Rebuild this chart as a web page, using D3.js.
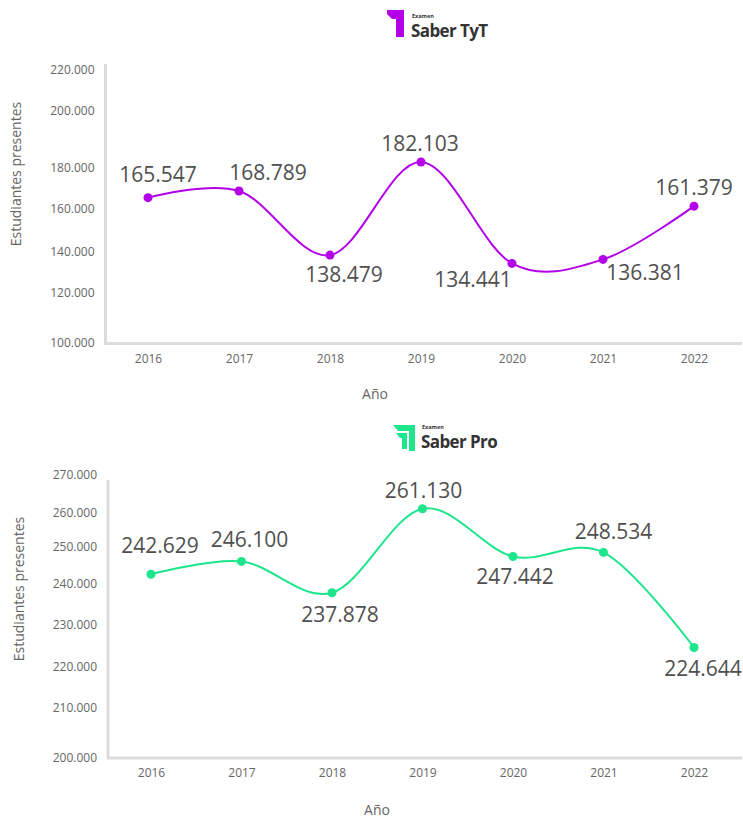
<!DOCTYPE html>
<html>
<head>
<meta charset="utf-8">
<script src="https://cdn.jsdelivr.net/npm/d3@7"></script>
<style>
  body { margin: 0; background: #fff; }
  svg text { font-family: 'Open Sans', sans-serif; }
</style>
</head>
<body>
<div id="chart"></div>
<script>
// data
const years = [2016, 2017, 2018, 2019, 2020, 2021, 2022];
const tytValues = [165547, 168789, 138479, 182103, 134441, 136381, 161379];
const proValues = [242629, 246100, 237878, 261130, 247442, 248534, 224644];
const tytTicks = [100000, 120000, 140000, 160000, 180000, 200000, 220000];
const proTicks = [200000, 210000, 220000, 230000, 240000, 250000, 260000, 270000];

// number format with dots as thousands separator
const es = d3.formatLocale({ decimal: ',', thousands: '.', grouping: [3], currency: ['$', ''] });
const fmt = es.format(',d');

class LineChart {
  constructor(_config) {
    this.config = {
      parent: _config.parent,
      values: _config.values,
      ticks: _config.ticks,
      tickPos: _config.tickPos,       // pixel positions of the (unevenly spaced) y labels
      xRange: _config.xRange,
      frame: _config.frame,
      colour: _config.colour,
      labelOffsets: _config.labelOffsets,
      yTitle: _config.yTitle,
      xTitle: _config.xTitle,
      xLabelY: _config.xLabelY,
    };
    this.render();
  }

  render() {
    const vis = this;
    const c = vis.config;

    vis.xScale = d3.scalePoint().domain(years).range(c.xRange);
    // piecewise linear scale so the axis labels sit where they are in the original
    vis.yScale = d3.scaleLinear().domain(c.ticks).range(c.tickPos);

    vis.g = c.parent.append('g');

    // grey L-shaped frame
    vis.g.append('path')
      .attr('d', `M${c.frame.left},${c.frame.top} V${c.frame.bottom} H${c.frame.right}`)
      .attr('fill', 'none')
      .attr('stroke', '#dcdcdc')
      .attr('stroke-width', 3);

    // y axis labels
    const yAxis = d3.axisLeft(vis.yScale)
      .tickValues(c.ticks)
      .tickFormat(fmt)
      .tickSize(0)
      .tickPadding(0);
    vis.g.append('g')
      .attr('transform', `translate(${c.frame.left - 11},0)`)
      .call(yAxis)
      .call((g) => g.select('.domain').remove())
      .selectAll('text')
      .attr('font-family', "'Open Sans', sans-serif")
      .attr('font-size', 12)
      .attr('fill', '#666');

    // x axis labels
    const xAxis = d3.axisBottom(vis.xScale).tickSize(0).tickPadding(0);
    vis.g.append('g')
      .attr('transform', `translate(0,${c.xLabelY})`)
      .call(xAxis)
      .call((g) => g.select('.domain').remove())
      .selectAll('text')
      .attr('font-family', "'Open Sans', sans-serif")
      .attr('font-size', 12)
      .attr('fill', '#666');

    // axis titles
    vis.g.append('text')
      .attr('transform', `translate(${c.yTitle.x},${c.yTitle.y}) rotate(-90)`)
      .attr('text-anchor', 'middle')
      .attr('font-size', 14)
      .attr('fill', '#666')
      .text('Estudiantes presentes');

    vis.g.append('text')
      .attr('x', c.xTitle.x)
      .attr('y', c.xTitle.y)
      .attr('text-anchor', 'middle')
      .attr('font-size', 14)
      .attr('fill', '#666')
      .text('Año');

    const points = years.map((y, i) => ({ year: y, value: c.values[i], off: c.labelOffsets[i] }));

    const line = d3.line()
      .x((d) => vis.xScale(d.year))
      .y((d) => vis.yScale(d.value))
      .curve(d3.curveCardinal.tension(0));

    vis.g.append('path')
      .datum(points)
      .attr('d', line)
      .attr('fill', 'none')
      .attr('stroke', c.colour)
      .attr('stroke-width', 2);

    vis.g.selectAll('.dot')
      .data(points)
      .enter()
      .append('circle')
      .attr('class', 'dot')
      .attr('cx', (d) => vis.xScale(d.year))
      .attr('cy', (d) => vis.yScale(d.value))
      .attr('r', 4.5)
      .attr('fill', c.colour);

    vis.g.selectAll('.value-label')
      .data(points)
      .enter()
      .append('text')
      .attr('class', 'value-label')
      .attr('x', (d) => vis.xScale(d.year) + d.off[0])
      .attr('y', (d) => vis.yScale(d.value) + d.off[1])
      .attr('text-anchor', 'middle')
      .attr('font-size', 21)
      .attr('fill', '#505050')
      .text((d) => fmt(d.value));
  }
}

const svg = d3.select('#chart').append('svg')
  .attr('width', 743)
  .attr('height', 821);

// logos above each chart
function drawLogo(x, y, name, colour, kind) {
  const g = svg.append('g').attr('transform', `translate(${x},${y})`);
  if (kind === 'tyt') {
    g.append('path')
      .attr('d', 'M0,0 H17 V27 H9 V9 H5 L0,4 Z')
      .attr('fill', colour);
  } else {
    g.append('path')
      .attr('d', 'M0,0 H22 V26 H16 V6 H5 Z')
      .attr('fill', colour);
    g.append('path')
      .attr('d', 'M3,8 H14 V24 H9 V13 H7 Z')
      .attr('fill', colour);
  }
  const tx = kind === 'tyt' ? 24 : 28;
  const base = kind === 'tyt' ? 27 : 23;
  g.append('text')
    .attr('x', tx + 1)
    .attr('y', base - 19)
    .attr('font-size', 5.5)
    .attr('font-weight', 700)
    .attr('fill', '#333')
    .text('Examen');
  g.append('text')
    .attr('x', tx)
    .attr('y', base)
    .attr('font-size', 17)
    .attr('font-weight', 700)
    .attr('letter-spacing', -0.6)
    .attr('fill', '#333')
    .text(name);
}

drawLogo(387, 10, 'Saber TyT', '#b300e8', 'tyt');
drawLogo(393, 425, 'Saber Pro', '#1de58c', 'pro');

new LineChart({
  parent: svg,
  values: tytValues,
  ticks: tytTicks,
  tickPos: [343, 293, 252, 209, 168, 111, 70],
  xRange: [148, 694],
  frame: { left: 105.5, top: 64, bottom: 343.5, right: 742 },
  colour: '#b300e8',
  labelOffsets: [[10, -16], [29, -11], [14, 27], [-1, -11], [-39, 24], [42, 21], [0, -11]],
  yTitle: { x: 21, y: 174 },
  xTitle: { x: 375, y: 399 },
  xLabelY: 354,
});

new LineChart({
  parent: svg,
  values: proValues,
  ticks: proTicks,
  tickPos: [758, 708, 667, 625, 584, 547, 513, 475],
  xRange: [151, 694],
  frame: { left: 108, top: 480, bottom: 758, right: 742 },
  colour: '#1de58c',
  labelOffsets: [[9, -21], [8, -14], [8, 29], [1, -11], [2, 28], [10, -13], [9, 29]],
  yTitle: { x: 24, y: 589 },
  xTitle: { x: 377, y: 815 },
  xLabelY: 768,
});
</script>
</body>
</html>
